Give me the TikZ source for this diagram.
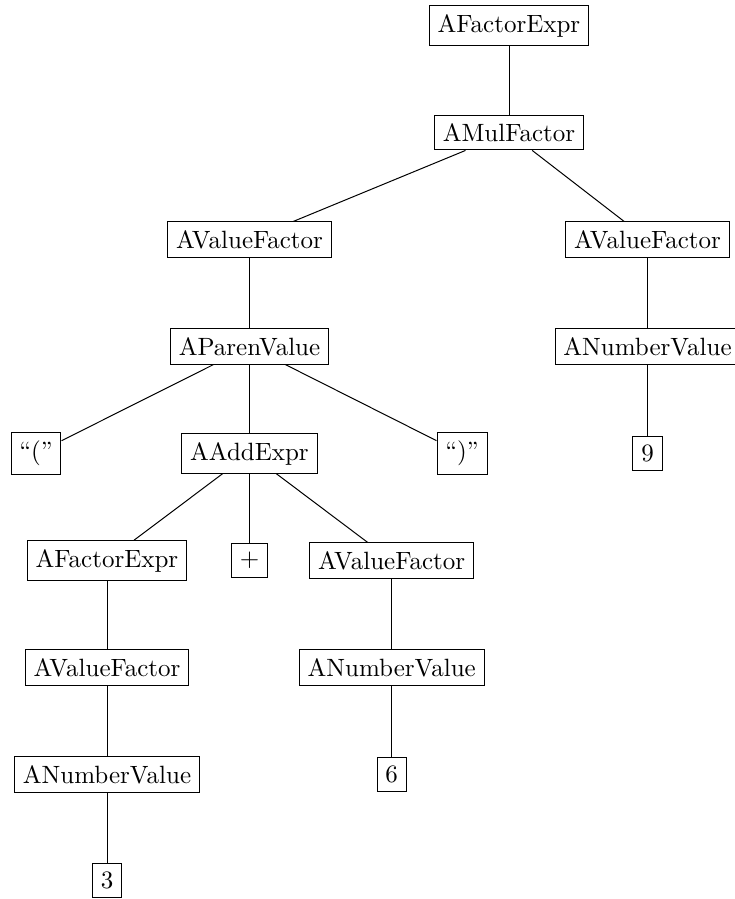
\documentclass[tikz,border=0pt]{standalone}
\begin{document}
\begin{tikzpicture}[x=0.4pt,y=-0.4pt,
  tnode/.style={draw,rectangle,inner sep=0.3333em}]
\useasboundingbox (0,0) rectangle (734,899);
% rows are 107 units apart
\node[tnode] (fe0) at (509,25.5) {AFactorExpr};
\node[tnode] (mul) at (509,132.5) {AMulFactor};
\node[tnode] (vfl) at (249.5,239.5) {AValueFactor};
\node[tnode] (vfr) at (647.5,239.5) {AValueFactor};
\node[tnode] (par) at (249.5,346.5) {AParenValue};
\node[tnode] (nvr) at (647.5,346.5) {ANumberValue};
\node[tnode] (lp)  at (36,453.5) {“(”};
\node[tnode] (add) at (249.5,453.5) {AAddExpr};
\node[tnode] (rp)  at (462,453.5) {“)”};
\node[tnode] (n9)  at (647.5,453.5) {9};
\node[tnode] (fel) at (107,560.5) {AFactorExpr};
\node[tnode] (plus) at (249.5,560.5) {$+$};
\node[tnode] (vfm) at (391.7,560.5) {AValueFactor};
\node[tnode] (vfll) at (107,667.5) {AValueFactor};
\node[tnode] (nvm) at (391.7,667.5) {ANumberValue};
\node[tnode] (nvl) at (107,774.5) {ANumberValue};
\node[tnode] (n6)  at (391.7,774.5) {6};
\node[tnode] (n3)  at (107,880.5) {3};
\draw (fe0) -- (mul);
\draw (mul) -- (vfl);
\draw (mul) -- (vfr);
\draw (vfl) -- (par);
\draw (vfr) -- (nvr);
\draw (nvr) -- (n9);
\draw (par) -- (lp);
\draw (par) -- (add);
\draw (par) -- (rp);
\draw (add) -- (fel);
\draw (add) -- (plus);
\draw (add) -- (vfm);
\draw (fel) -- (vfll);
\draw (vfll) -- (nvl);
\draw (nvl) -- (n3);
\draw (vfm) -- (nvm);
\draw (nvm) -- (n6);
\end{tikzpicture}
\end{document}
